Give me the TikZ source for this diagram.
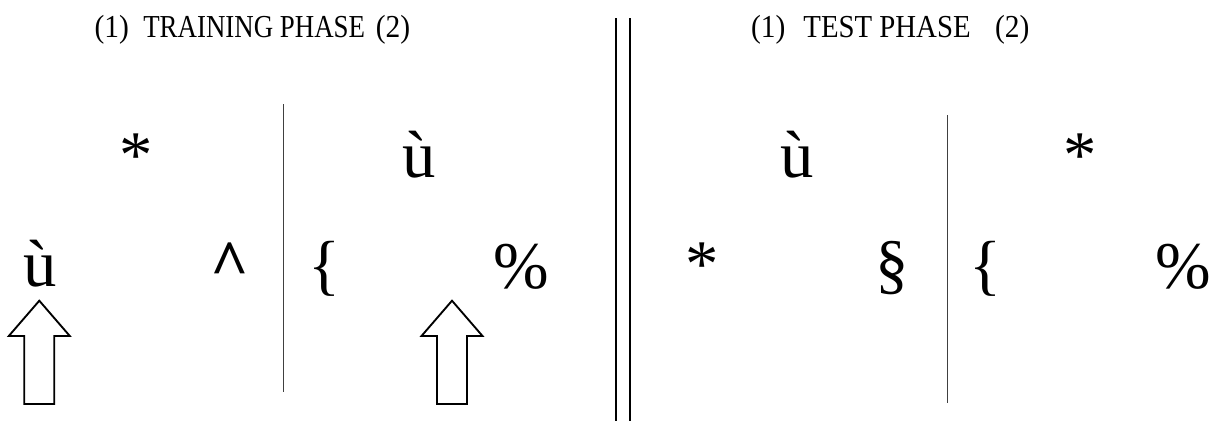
\documentclass[tikz,border=0pt]{standalone}
\usepackage{fontspec}
\setmainfont{Liberation Serif}
\begin{document}
\begin{tikzpicture}[x=0.75pt,y=-0.75pt,
  title/.style={inner sep=0pt,anchor=base,font=\fontsize{24pt}{28pt}\selectfont},
  glyph/.style={inner sep=0pt,anchor=base,font=\fontsize{50pt}{55pt}\selectfont},
  divider/.style={line width=0.75pt,black!75},
  sep/.style={line width=0.8pt,black},
  arrowline/.style={line width=1.4pt,black,line join=miter},
  bigup/.pic={\draw[arrowline] (0,0) -- (-30.5,35.3) -- (-15,35.3) -- (-15,103.3) -- (15,103.3) -- (15,35.3) -- (30.5,35.3) -- cycle;}
]
\useasboundingbox (0,0) rectangle (1213,422);

% titles
\node[title] (t1a) at (111.7,37) {\scalebox{0.92}[1]{(1)}};
\node[title] (t1b) at (254.2,37) {\scalebox{0.84}[1]{TRAINING PHASE}};
\node[title] (t1c) at (393,37) {\scalebox{0.92}[1]{(2)}};
\node[title] (t2a) at (768.3,37) {\scalebox{0.92}[1]{(1)}};
\node[title] (t2b) at (887,37) {\scalebox{0.9}[1]{TEST PHASE}};
\node[title] (t2c) at (1012.3,37) {\scalebox{0.92}[1]{(2)}};

% separators
\coordinate (d1t) at (283,104); \coordinate (d1b) at (283,392);
\coordinate (d2t) at (947,115); \coordinate (d2b) at (947,403);
\coordinate (s1t) at (616,18); \coordinate (s1b) at (616,421);
\coordinate (s2t) at (630,18); \coordinate (s2b) at (630,421);
\draw[divider] (d1t) -- (d1b);
\draw[divider] (d2t) -- (d2b);
\draw[sep] (s1t) -- (s1b);
\draw[sep] (s2t) -- (s2b);

% training phase glyphs
\node[glyph] (a1) at (136.5,177) {*};
\node[glyph] (a2) at (419,177) {ù};
\node[glyph] (a3) at (40,286) {ù};
\node[glyph] (a4) at (229.5,286) {\textbf{\^{}}};
\node[glyph] (a5) at (324,287) {\{};
\node[glyph] (a6) at (521.5,288) {\%};

% test phase glyphs
\node[glyph] (b1) at (797.5,177) {ù};
\node[glyph] (b2) at (1080.5,177) {*};
\node[glyph] (b3) at (702.5,286) {*};
\node[glyph] (b4) at (892,286) {\S};
\node[glyph] (b5) at (985,287) {\{};
\node[glyph] (b6) at (1183.5,288) {\%};

% arrows
\pic at (39.3,300.7) {bigup};
\pic at (452,300.7) {bigup};
\end{tikzpicture}
\end{document}
